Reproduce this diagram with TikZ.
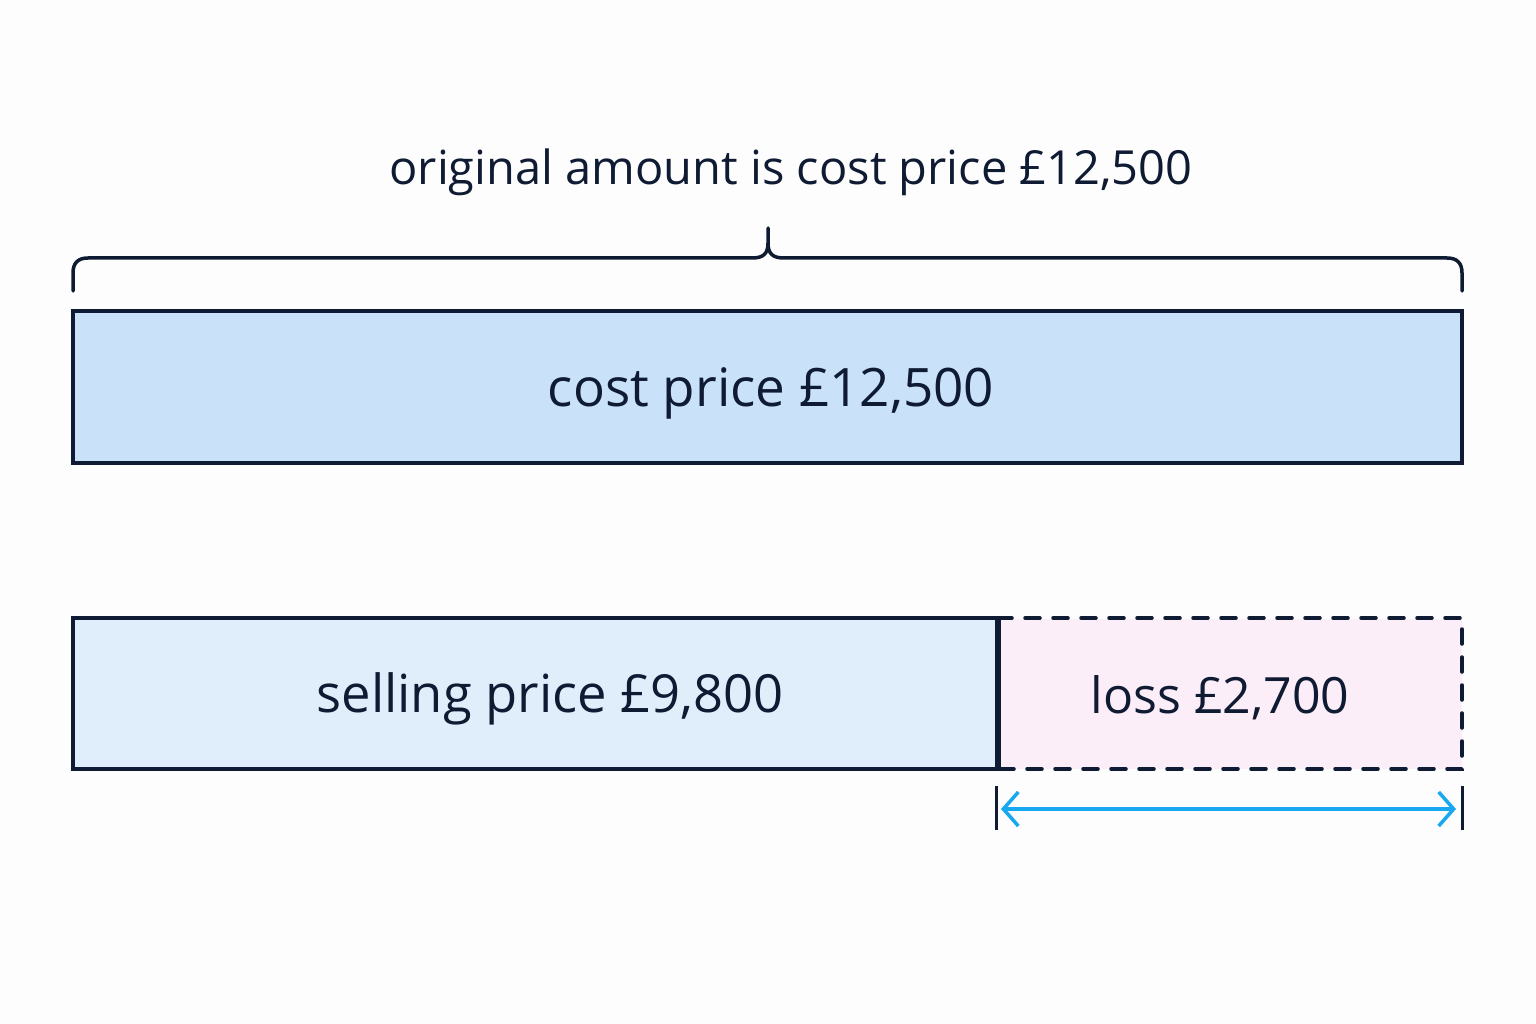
\documentclass[tikz,border=0pt]{standalone}
\usepackage{fontspec}
\setmainfont{Open Sans}
\usetikzlibrary{arrows.meta}
\definecolor{ink}{HTML}{0F1A33}
\definecolor{costfill}{HTML}{C9E2FA}
\definecolor{sellfill}{HTML}{E0EEFC}
\definecolor{lossfill}{HTML}{FCEEF8}
\definecolor{arrowc}{HTML}{18A8F0}
\definecolor{bg}{HTML}{FDFDFD}
\tikzset{
  bar/.style={draw=ink, line width=3.5pt, inner sep=0pt},
  lbl/.style={text=ink, font=\fontsize{53}{60}\selectfont},
  ttl/.style={text=ink, font=\fontsize{47}{54}\selectfont},
  tick/.style={draw=ink, line width=3pt},
  dim/.style={draw=arrowc, line width=3.5pt, {Straight Barb[length=15pt,width=34pt,line width=3.5pt]}-{Straight Barb[length=15pt,width=34pt,line width=3.5pt]}},
}
\begin{document}
\begin{tikzpicture}[x=1pt,y=-1pt]
\fill[bg] (0,0) rectangle (1536,1024);
\useasboundingbox (0,0) rectangle (1536,1024);
% title
\node[ttl] (title) at (791,172) {original amount is cost price £12,500};
% brace
\draw[ink, line width=3.5pt, line cap=round, line join=round]
  (73,291) -- (73,273) .. controls (73,263) and (78,258) .. (88,258)
  -- (752,258) .. controls (763,258) and (768,254) .. (768,243) -- (768,228)
  (768,243) .. controls (768,254) and (773,258) .. (784,258)
  -- (1447,258) .. controls (1457,258) and (1462,263) .. (1462,273) -- (1462,291);
% cost bar
\node[bar, fill=costfill, minimum width=1389pt, minimum height=152pt] (cost) at (767.5,387) {};
\node[lbl] (costt) at (771,393) {cost price £12,500};
% selling bar
\node[bar, fill=sellfill, minimum width=924pt, minimum height=151pt] (sell) at (535,693.5) {};
\node[lbl, font=\fontsize{52.5}{60}\selectfont] (sellt) at (550,699) {selling price £9,800};
% loss bar
\fill[lossfill] (998,619) rectangle (1462,769);
\coordinate (ltl) at (997,618);
\coordinate (ltr) at (1462,618);
\coordinate (lbr) at (1462,769);
\coordinate (lbl) at (997,769);
\draw[ink, line width=3.5pt, dash pattern=on 15pt off 13pt, line cap=round] (ltl) -- (ltr) -- (lbr) -- (lbl);
\draw[ink, line width=3.5pt] (sell.north east) -- (sell.south east);
\node[lbl, font=\fontsize{50}{60}\selectfont] (losst) at (1220,698) {loss £2,700};
% dimension
\coordinate (t1a) at (996,786); \coordinate (t1b) at (996,830);
\coordinate (t2a) at (1462,786); \coordinate (t2b) at (1462,830);
\draw[tick] (t1a) -- (t1b);
\draw[tick] (t2a) -- (t2b);
\coordinate (da) at (1001,809);
\coordinate (db) at (1456,809);
\draw[dim] (da) -- (db);
\end{tikzpicture}
\end{document}
